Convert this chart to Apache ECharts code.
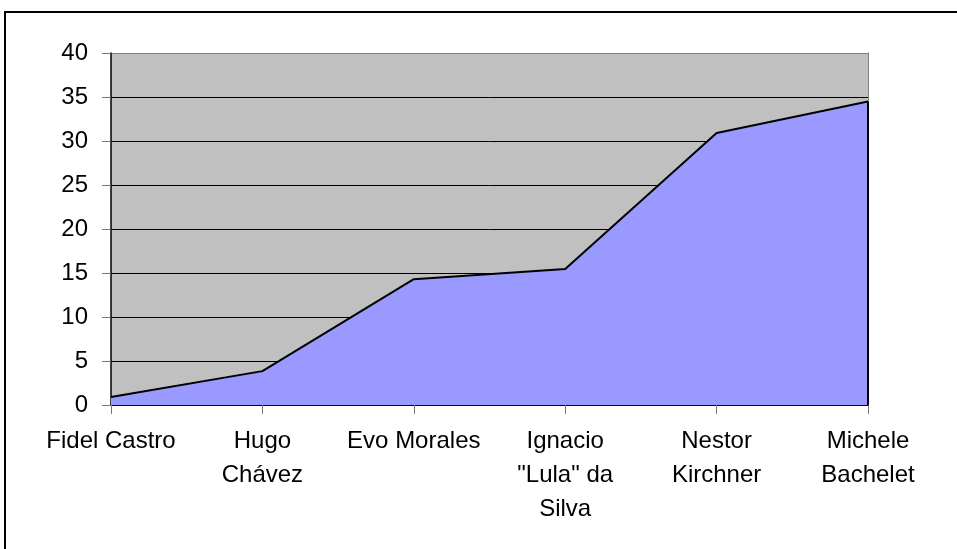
<!DOCTYPE html>
<html>
<head>
<meta charset="utf-8">
<script src="https://cdn.jsdelivr.net/npm/echarts@6/dist/echarts.min.js"></script>
<style>
html,body{margin:0;padding:0;background:#fff;}
#chart{width:957px;height:549px;}
</style>
</head>
<body>
<div id="chart"></div>
<script>
const categories = ['Fidel Castro', 'Hugo\nChávez', 'Evo Morales', 'Ignacio\n"Lula" da\nSilva', 'Nestor\nKirchner', 'Michele\nBachelet'];
const values = [0.9, 3.85, 14.3, 15.45, 30.9, 34.5];
const yMin = 0, yMax = 40, yStep = 5;

const chart = echarts.init(document.getElementById('chart'), null, {renderer: 'canvas'});
const font = 'Liberation Sans, Arial, sans-serif';
chart.setOption({
  animation: false,
  backgroundColor: '#fff',
  graphic: [{
    type: 'rect', z: 100, silent: true,
    shape: {x: 5, y: 12, width: 1100, height: 700},
    style: {fill: 'none', stroke: '#000', lineWidth: 2}
  }],
  grid: {left: 111, right: 89, top: 53, bottom: 144, show: true, backgroundColor: '#C0C0C0', borderWidth: 0},
  xAxis: {
    type: 'category', data: categories, boundaryGap: false,
    axisLine: {show: true, lineStyle: {color: '#000', width: 2}},
    axisTick: {show: true, length: 9, lineStyle: {color: '#777', width: 1}},
    axisLabel: {color: '#000', fontFamily: font, fontSize: 24, lineHeight: 34, margin: 19, interval: 0}
  },
  yAxis: [{
    type: 'value', min: yMin, max: yMax, interval: yStep,
    axisLine: {show: true, lineStyle: {color: '#000', width: 1.5}},
    axisTick: {show: true, length: 9, lineStyle: {color: '#777', width: 1}},
    axisLabel: {color: '#000', fontFamily: font, fontSize: 24, margin: 23},
    splitLine: {show: true, lineStyle: {color: ['#000','#000','#000','#000','#000','#000','#000','#000','#808080'], width: 1}}
  }, {
    type: 'value', min: yMin, max: yMax, interval: yStep, position: 'right',
    axisLine: {show: true, lineStyle: {color: '#808080', width: 1}},
    axisTick: {show: false}, axisLabel: {show: false}, splitLine: {show: false}
  }],
  series: [{
    type: 'line', data: values, symbol: 'none', z: 3,
    lineStyle: {color: '#000', width: 2},
    areaStyle: {color: '#9999FF', opacity: 1},
    markLine: {
      silent: true, symbol: 'none', label: {show: false},
      lineStyle: {color: '#000', width: 2, type: 'solid'},
      data: [[{coord: [categories.length - 1, 0]}, {coord: [categories.length - 1, values[values.length - 1]]}]]
    }
  }]
});
</script>
</body>
</html>
